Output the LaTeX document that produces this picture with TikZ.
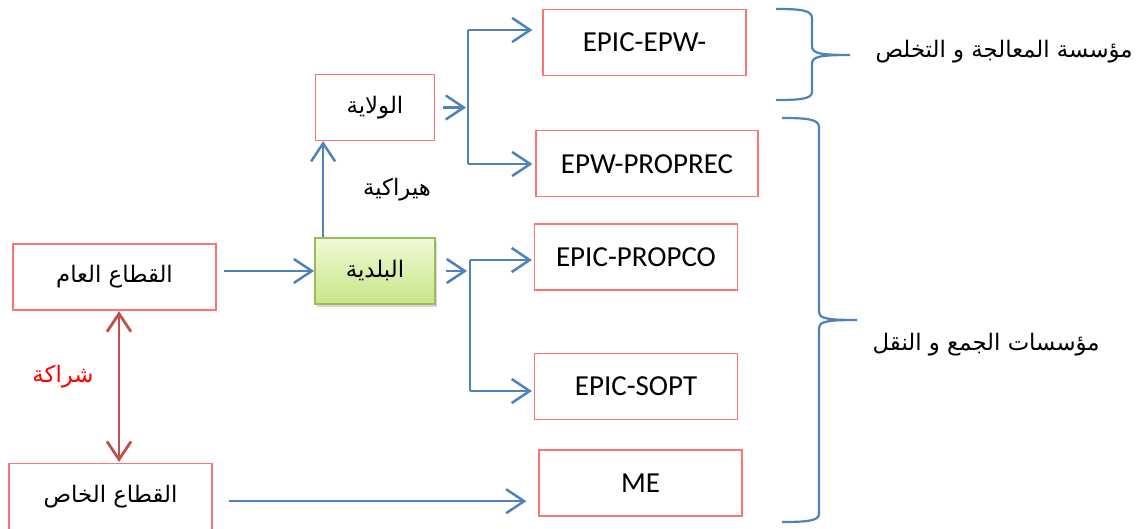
\documentclass[tikz,border=0pt]{standalone}
\usepackage{fontspec}
\setmainfont{Carlito}
\newfontfamily\arabicfont[Script=Arabic]{DejaVu Sans}
\TeXXeTstate=1
\usetikzlibrary{arrows.meta,positioning,shadows}
\definecolor{lineblue}{HTML}{4F81BD}
\definecolor{boxred}{HTML}{FF7373}
\definecolor{duored}{HTML}{C0504D}
\definecolor{leafgreen}{HTML}{9BBB59}
\definecolor{leaftop}{HTML}{F0F9D6}
\definecolor{leafbot}{HTML}{C6E686}
\newcommand{\artxt}[1]{{\arabicfont\fontsize{11.4}{14}\selectfont\beginR #1\endR}}

\begin{document}
\begin{tikzpicture}[
  x=0.5pt, y=-0.5pt,
  font=\fontsize{14.5}{17}\selectfont,
  box/.style={draw=boxred, line width=0.6pt, inner sep=0pt,
    minimum width=101.5pt, minimum height=33pt},
  greenbox/.style={box, draw=leafgreen, line width=0.9pt,
    top color=leaftop, bottom color=leafbot,
    drop shadow={shadow xshift=1.2pt, shadow yshift=-1.5pt, fill=black!30}},
  arr/.style={-{Straight Barb[length=9pt, width=12pt]}, lineblue, line width=1.25pt},
  trunk/.style={lineblue, line width=1.25pt},
  duo/.style={{Straight Barb[length=9pt, width=12pt]}-{Straight Barb[length=9pt, width=12pt]},
    duored, line width=1.4pt},
  curly/.style={lineblue, line width=1.1pt},
  lbl/.style={inner sep=0pt}
]
  \useasboundingbox (0,0) rectangle (1140,529);

  % left column
  \node[box] (public) at (114.5,277) {\artxt{القطاع العام}};
  \node[box, below=76pt of public, xshift=-2pt] (private) {\artxt{القطاع الخاص}};

  % middle column
  \node[greenbox, minimum width=60pt] (baladiya) at (375,271) {\artxt{البلدية}};
  \node[box, minimum width=59.5pt, above=48pt of baladiya] (wilaya) {\artxt{الولاية}};

  % right column
  \node[box] (epw) at (644.5,42.5) {EPIC-EPW-};
  \node[box, minimum width=111pt, below=27pt of epw, xshift=1.25pt] (proprec) {EPW-PROPREC};
  \node[box] (propco) at (636,257) {EPIC-PROPCO};
  \node[box, below=31pt of propco] (sopt) {EPIC-SOPT};
  \node[box] (me) at (640.5,483) {ME};

  % fork points
  \coordinate (wtop) at (468,30);
  \coordinate (wbot) at (468,164);
  \coordinate (btop) at (470,260);
  \coordinate (bbot) at (470,391);

  \draw[arr, shorten <=3.5pt] (public.east |- baladiya.west) -- (baladiya.west);
  \draw[arr, shorten <=8pt, shorten >=6pt] ([yshift=-2.5pt]private.east) -- ([yshift=-2.5pt]private.east -| me.west);
  \draw[duo, shorten <=0.3pt, shorten >=0.3pt] ([xshift=2.25pt]public.south) -- ([xshift=2.25pt]public.south |- private.north);
  \draw[arr] ([xshift=4.5pt]baladiya.north west) -- ([xshift=4.5pt]baladiya.north west |- wilaya.south);

  \draw[arr, shorten <=4pt, shorten >=1pt] (wilaya.east) -- (wilaya.east -| wtop);
  \draw[trunk] (wtop) -- (wbot);
  \draw[arr, shorten >=5pt] (wtop) -- (wtop -| epw.west);
  \draw[arr, shorten >=1.5pt] (wbot) -- (wbot -| proprec.west);

  \draw[arr, shorten <=5pt, shorten >=1.5pt] (baladiya.east) -- (baladiya.east -| btop);
  \draw[trunk] (btop) -- (bbot);
  \draw[arr, shorten >=1pt] (btop) -- (btop -| propco.west);
  \draw[arr, shorten >=1pt] (bbot) -- (bbot -| sopt.west);

  \node[lbl] (hier) at (397,190) {\artxt{هيراكية}};
  \node[lbl, text=red] (shar) at (63,377) {\artxt{شراكة}};

  % braces
  \draw[curly] (776,9) .. controls (800,9) and (812,10) .. (812,18) -- (812,46)
    .. controls (812,53) and (818,55) .. (850,55)
    .. controls (818,55) and (812,57) .. (812,64) -- (812,92)
    .. controls (812,99) and (800,100) .. (776,100);
  \draw[curly] (782,118) .. controls (806,118) and (819,119) .. (819,127) -- (819,312)
    .. controls (819,318) and (825,320) .. (857,320)
    .. controls (825,320) and (819,322) .. (819,328) -- (819,514)
    .. controls (819,521) and (806,522) .. (782,522);
  \node[lbl, anchor=east] (treat) at (1133,52) {\artxt{مؤسسة المعالجة و التخلص}};
  \node[lbl, anchor=east] (collect) at (1100,345) {\artxt{مؤسسات الجمع و النقل}};
\end{tikzpicture}
\end{document}
